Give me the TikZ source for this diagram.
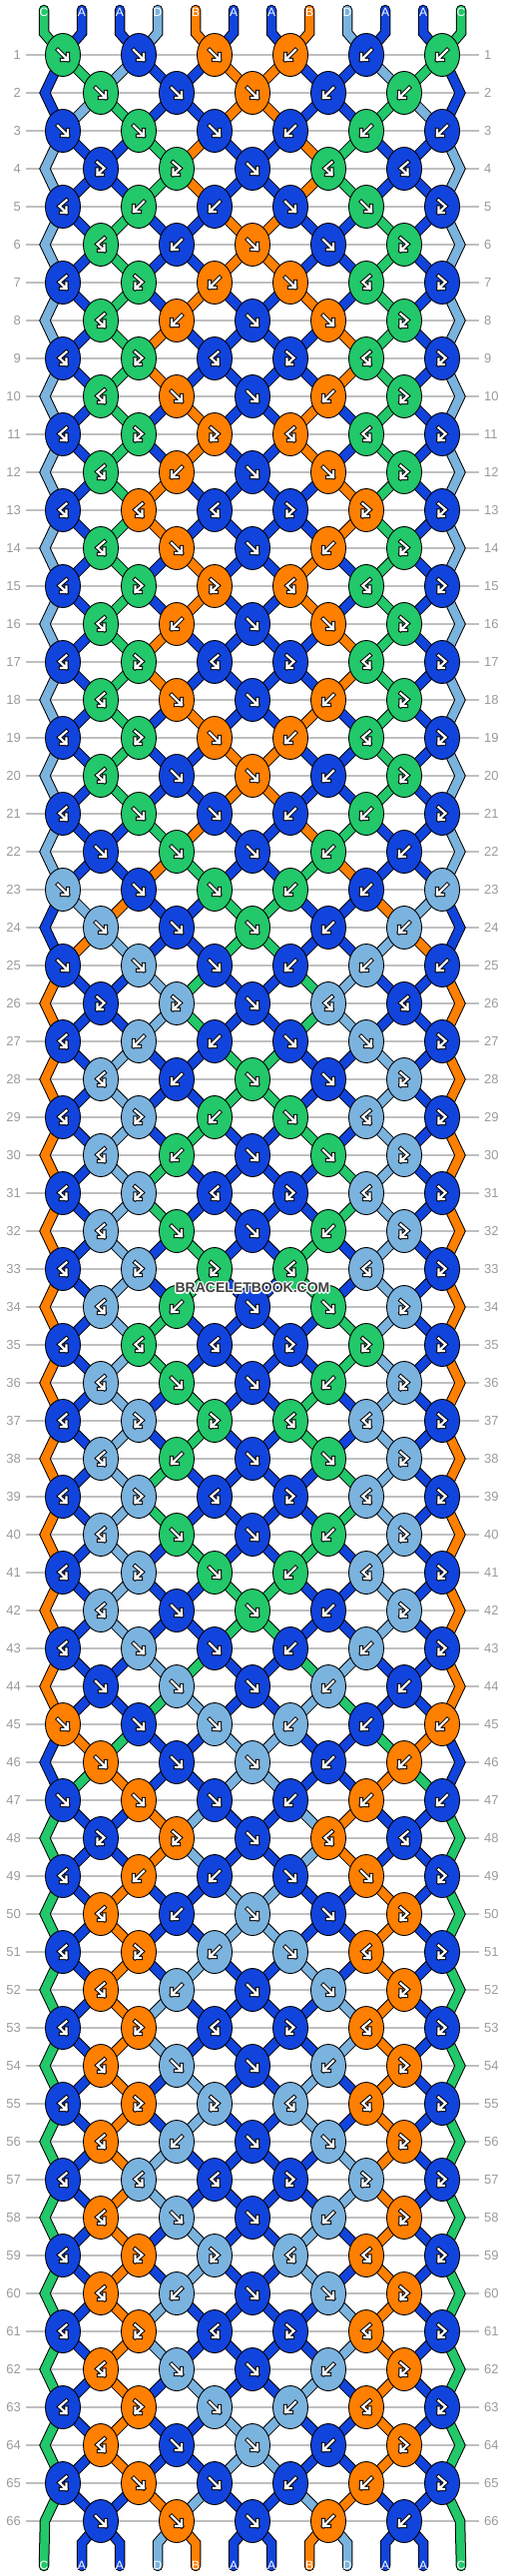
\documentclass[tikz,border=0pt]{standalone}
\usepackage{fontspec}
\setmainfont{Liberation Sans}
\usetikzlibrary{shapes.geometric}

\definecolor{strA}{HTML}{1144DD}
\definecolor{strB}{HTML}{FF7F00}
\definecolor{strC}{HTML}{22C86A}
\definecolor{strD}{HTML}{7BB3DF}
\definecolor{rulegrey}{HTML}{BFBFBF}
\definecolor{numgrey}{HTML}{9A9A9A}
\definecolor{wmgrey}{HTML}{404040}

\pgfdeclarelayer{grid}
\pgfdeclarelayer{bandedge}
\pgfdeclarelayer{bandcore}
\pgfsetlayers{grid,bandedge,bandcore,main}

\newcommand\setkt[2]{\expandafter\def\csname kt#1\endcsname{#2}}
\setkt{1}{f,f,f,b,b,b}
\setkt{2}{f,f,f,b,b}
\setkt{3}{f,f,f,b,b,b}
\setkt{4}{F,F,f,B,B}
\setkt{5}{B,b,b,f,f,F}
\setkt{6}{B,b,f,f,F}
\setkt{7}{B,F,b,f,B,F}
\setkt{8}{B,b,f,f,F}
\setkt{9}{B,F,B,F,B,F}
\setkt{10}{B,f,f,b,F}
\setkt{11}{B,F,F,B,B,F}
\setkt{12}{B,b,f,f,F}
\setkt{13}{B,B,B,F,F,F}
\setkt{14}{B,f,f,b,F}
\setkt{15}{B,F,F,B,B,F}
\setkt{16}{B,b,f,f,F}
\setkt{17}{B,F,B,F,B,F}
\setkt{18}{B,f,f,b,F}
\setkt{19}{B,F,f,b,B,F}
\setkt{20}{B,f,f,b,F}
\setkt{21}{B,f,f,b,b,F}
\setkt{22}{f,f,f,b,b}

\gdef\bandlist{}
\newcommand\band[2]{%
  \xdef\bandlist{\unexpanded\expandafter{\bandlist}\noexpand\bandentry{#1}{#2}}}
\newcommand\bandedgeentry[2]{\draw[bandout] #2;}
\newcommand\bandcoreentry[2]{\draw[bandin,str#1] #2;}

\newcommand\swapstr{%
  \expandafter\xdef\csname s@\p\endcsname{\rc}%
  \expandafter\xdef\csname s@\q\endcsname{\lc}}

\newcommand\incoming[2]{%
  \ifnum\r=1
    \band{#2}{(t#1) -- (tb#1) -- (k\r-\j.center)}%
  \else
    \pgfmathtruncatemacro\pr{\r-1}%
    \ifnum\isodd=0
      \pgfmathtruncatemacro\js{(#1+1)/2}%
      \band{#2}{(k\pr-\js.center) -- (k\r-\j.center)}%
    \else
      \pgfmathtruncatemacro\ppr{\r-2}%
      \ifnum#1=1
        \band{#2}{(k\ppr-1.center) -- (e\pr-1) -- (k\r-\j.center)}%
      \else\ifnum#1=12
        \band{#2}{(k\ppr-6.center) -- (e\pr-12) -- (k\r-\j.center)}%
      \else
        \pgfmathtruncatemacro\js{#1/2}%
        \band{#2}{(k\pr-\js.center) -- (k\r-\j.center)}%
      \fi\fi
    \fi
  \fi}

\begin{document}
\begin{tikzpicture}[x=1pt,y=-1pt,
  knot/.style={ellipse,draw=black,line width=0.9pt,minimum width=35pt,minimum height=43pt,inner sep=0pt},
  bandout/.style={line width=10.5pt,black,line cap=round,line join=miter},
  bandin/.style={line width=8.5pt,line cap=round,line join=miter},
  gridrule/.style={line width=1.2pt,rulegrey},
  rowno/.style={text=numgrey,font=\fontsize{13}{13}\selectfont,inner sep=0pt},
  strlabel/.style={text=white,font=\fontsize{12}{12}\selectfont,inner sep=0pt},
  iconout/.style={line width=4.2pt,black,line cap=rect,line join=miter},
  iconin/.style={line width=2.2pt,white,line cap=rect,line join=miter},
  wmark/.style={font=\bfseries\fontsize{14}{14}\selectfont,inner sep=0pt}]
  \useasboundingbox (0,0) rectangle (506,2580);

  \foreach \c [count=\p] in {C,A,A,D,B,A,A,B,D,A,A,C}{
    \expandafter\xdef\csname s@\p\endcsname{\c}
    \pgfmathsetmacro\xs{44+38*(\p-1)}
    \coordinate (t\p) at (\xs,10);
    \coordinate (tb\p) at (\xs,33);
    \coordinate (bb\p) at (\xs,2547);
    \coordinate (bt\p) at (\xs,2570);
    \node[strlabel] (lt\p) at (\xs,12) {\c};
  }

  \begin{pgfonlayer}{grid}
    \foreach \r in {1,...,66}{
      \pgfmathsetmacro\yy{55+38*(\r-1)}
      \coordinate (gl\r) at (26,\yy);
      \coordinate (gr\r) at (480,\yy);
      \draw[gridrule] (gl\r) -- (gr\r);
    }
  \end{pgfonlayer}

  \foreach \r in {1,...,66}{
    \pgfmathtruncatemacro\pat{mod(\r-1,22)+1}
    \pgfmathtruncatemacro\isodd{mod(\r,2)}
    \pgfmathsetmacro\yy{55+38*(\r-1)}
    \node[rowno,anchor=east] (nl\r) at (21,\yy) {\r};
    \node[rowno,anchor=west] (nr\r) at (485,\yy) {\r};
    \ifnum\isodd=0
      \coordinate (e\r-1) at (45,\yy);
      \coordinate (e\r-12) at (461,\yy);
    \fi
    \expandafter\let\expandafter\types\csname kt\pat\endcsname
    \foreach \t [count=\j] in \types {
      \pgfmathtruncatemacro\p{\isodd==1 ? 2*\j-1 : 2*\j}
      \pgfmathtruncatemacro\q{\p+1}
      \pgfmathsetmacro\xx{(\isodd==1 ? 63 : 101)+76*(\j-1)}
      \edef\lc{\csname s@\p\endcsname}
      \edef\rc{\csname s@\q\endcsname}
      \let\sc\lc
      \if b\t\let\sc\rc\fi
      \if B\t\let\sc\rc\fi
      \node[knot,fill=str\sc] (k\r-\j) at (\xx,\yy) {};
      \if f\t\def\ipath{(-5,-5) -- (5,5) (-1,5) -- (5,5) -- (5,-1)}\fi
      \if b\t\def\ipath{(5,-5) -- (-5,5) (1,5) -- (-5,5) -- (-5,-1)}\fi
      \if F\t\def\ipath{(-3.5,-6.5) -- (3.5,-0.5) -- (-3.5,6) (-3.5,0.5) -- (-3.5,6) -- (2,6)}\fi
      \if B\t\def\ipath{(3.5,-6.5) -- (-3.5,-0.5) -- (3.5,6) (3.5,0.5) -- (3.5,6) -- (-2,6)}\fi
      \begin{scope}[shift={(k\r-\j.center)}]
        \draw[iconout] \ipath;
        \draw[iconin] \ipath;
      \end{scope}
      \incoming{\p}{\lc}
      \incoming{\q}{\rc}
      \if f\t\swapstr\fi
      \if b\t\swapstr\fi
    }
  }

  \foreach \p in {1,...,12}{
    \edef\lc{\csname s@\p\endcsname}
    \pgfmathsetmacro\xs{44+38*(\p-1)}
    \node[strlabel] (lb\p) at (\xs,2569) {\lc};
    \ifnum\p=1 \band{\lc}{(k65-1.center) -- (e66-1) -- (bt1)}\else
    \ifnum\p=12 \band{\lc}{(k65-6.center) -- (e66-12) -- (bt12)}\else
      \pgfmathtruncatemacro\js{\p/2}
      \band{\lc}{(k66-\js.center) -- (bb\p) -- (bt\p)}\fi\fi
  }

  \begin{pgfonlayer}{bandedge}
    \let\bandentry\bandedgeentry
    \bandlist
  \end{pgfonlayer}
  \begin{pgfonlayer}{bandcore}
    \let\bandentry\bandcoreentry
    \bandlist
  \end{pgfonlayer}

  \foreach \dx/\dy [count=\w] in {-1.2/0,1.2/0,0/-1.2,0/1.2,-0.9/-0.9,0.9/0.9,-0.9/0.9,0.9/-0.9}
    \node[wmark,text=white] (wmh\w) at (253+\dx,1290+\dy) {BRACELETBOOK.COM};
  \node[wmark,text=wmgrey] (wm) at (253,1290) {BRACELETBOOK.COM};
\end{tikzpicture}
\end{document}
